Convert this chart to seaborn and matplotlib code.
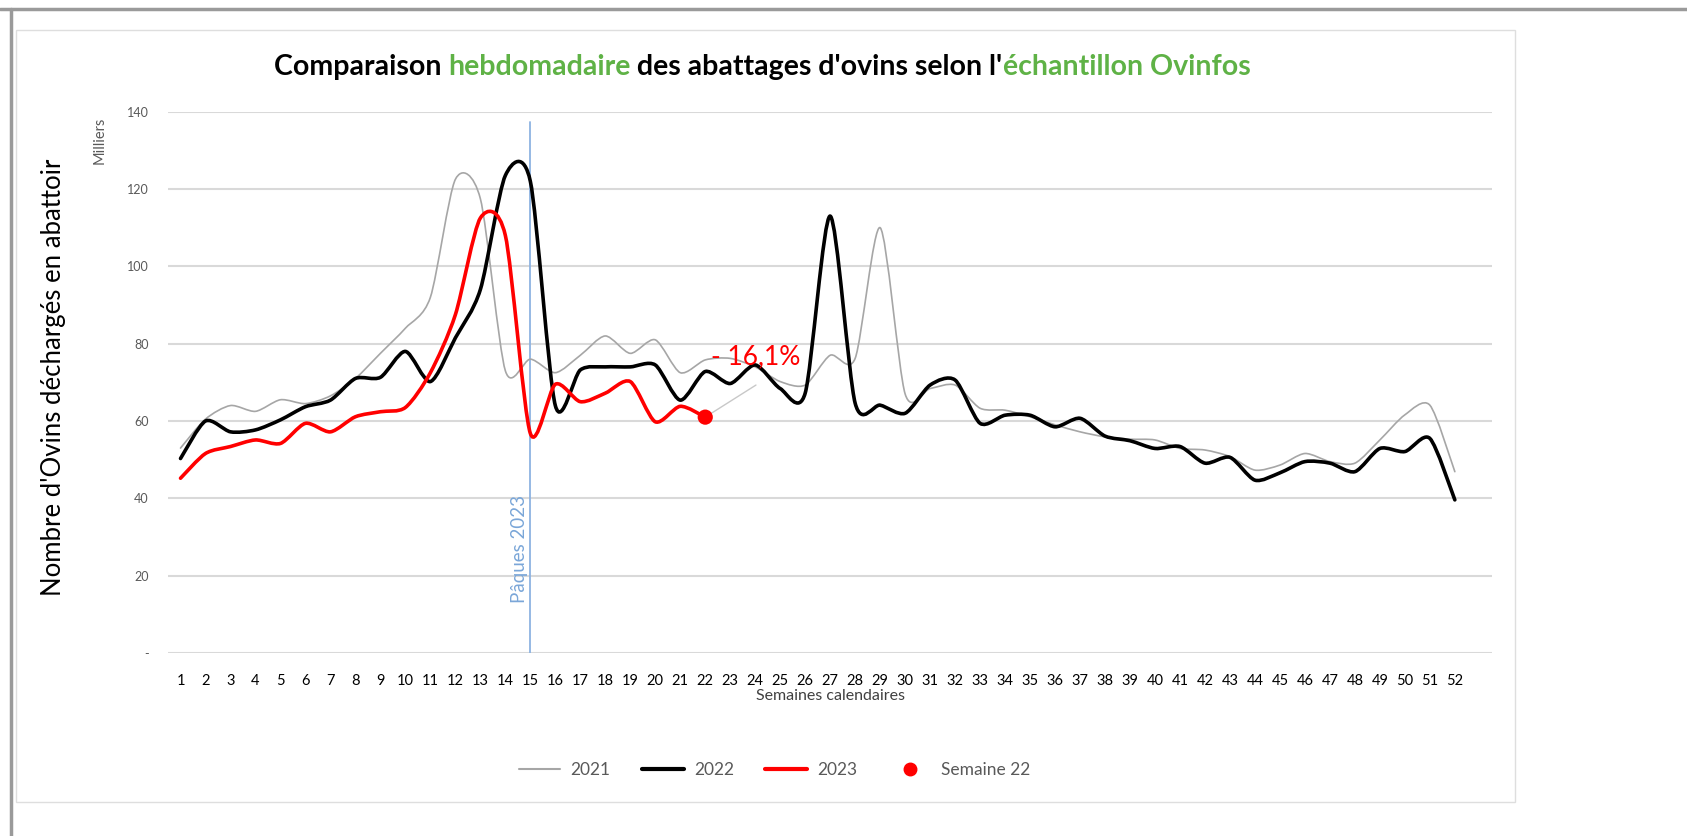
import numpy as np
import pandas as pd
import seaborn as sns
import matplotlib.pyplot as plt
from matplotlib.path import Path
from matplotlib.patches import PathPatch, Rectangle
from matplotlib.lines import Line2D

# weekly sheep slaughter (thousands)
weeks = list(range(1, 53))
y2021 = [53, 60.5, 64, 62.5, 65.5, 64.5, 66.5, 71, 77.5, 84, 92, 122.5, 117.5, 73, 76, 72.5,
         77, 82, 77.5, 81, 72.5, 75.8, 76.2, 74, 70.2, 69.3, 77, 76.2, 110, 67, 68.4, 69.3,
         63.3, 62.8, 61.1, 59, 57.2, 55.9, 55.3, 55.1, 52.9, 52.5, 50.8, 47.3, 48.6, 51.6,
         49.5, 49.1, 55.1, 61.6, 64.1, 46.9]
y2022 = [50.3, 60, 57.2, 57.7, 60.3, 63.7, 65.4, 71, 71.3, 78, 70.2, 81.5, 94, 123.5, 122, 64,
         73.2, 74, 74, 74.5, 65.4, 72.8, 69.7, 74.5, 68.4, 67.2, 113, 64.6, 64.1, 62, 69.3,
         70.6, 59.4, 61.5, 61.5, 58.5, 60.7, 56.1, 54.9, 52.9, 53.4, 49.1, 50.6, 44.7, 46.6,
         49.5, 49.1, 46.9, 52.9, 52.1, 55.5, 39.6]
y2023 = [45.2, 51.6, 53.4, 55.1, 54.2, 59.4, 57.2, 61.1, 62.4, 63.5, 72.5, 87.5, 112.5, 108,
         56.8, 69.5, 65, 67.2, 70.2, 59.8, 63.8, 61]
week_labels = [str(w) for w in weeks]
y_ticks = [0, 20, 40, 60, 80, 100, 120, 140]
y_tick_labels = ['-', '20', '40', '60', '80', '100', '120', '140']
focus_week = 22
change_text = '- 16,1%'
easter_week = 15

FONT = 'Lato'
GREEN = '#5fb246'
GREY_TXT = '#595959'
TENSION = 0.8


def smooth_path(xy):
    # Excel-like smoothed line: Catmull-Rom segments turned into cubic beziers
    p = np.vstack([xy[0], xy, xy[-1]])
    verts = [tuple(xy[0])]
    codes = [Path.MOVETO]
    k = TENSION / 6.0
    for i in range(1, len(p) - 2):
        c1 = p[i] + (p[i + 1] - p[i - 1]) * k
        c2 = p[i + 1] - (p[i + 2] - p[i]) * k
        verts += [tuple(c1), tuple(c2), tuple(p[i + 1])]
        codes += [Path.CURVE4] * 3
    return Path(verts, codes)


sns.set_theme(style='white')
plt.rcParams['font.family'] = [FONT, 'DejaVu Sans']

fig = plt.figure(figsize=(16.87, 8.36), dpi=100)

# screenshot frame
fig.add_artist(Line2D([0, 1], [0.9895, 0.9895], color='#9a9a9a', lw=2.5, transform=fig.transFigure))
fig.add_artist(Line2D([0.0068, 0.0068], [0, 0.9895], color='#9a9a9a', lw=2.5, transform=fig.transFigure))
fig.add_artist(Rectangle((16 / 1687, 1 - 802 / 836), (1515 - 16) / 1687, (802 - 30) / 836,
                         fill=False, ec='#dedede', lw=1, transform=fig.transFigure))

ax = fig.add_axes([0.0996, 0.2189, 0.785, 0.6475])

series = [
    (pd.DataFrame({'semaine': weeks, 'abattages': y2021}), '#a6a6a6', 1.2, '2021'),
    (pd.DataFrame({'semaine': weeks, 'abattages': y2022}), 'black', 2.6, '2022'),
    (pd.DataFrame({'semaine': weeks[:len(y2023)], 'abattages': y2023}), '#ff0000', 2.6, '2023'),
]
for df, color, lw, name in series:
    sns.lineplot(data=df, x='semaine', y='abattages', color=color, lw=lw, legend=False, ax=ax)

for line, (df, color, lw, name) in zip(list(ax.lines), series):
    patch = PathPatch(smooth_path(line.get_xydata()), fc='none', ec=color, lw=lw,
                      capstyle='round', joinstyle='round', transform=ax.transData, zorder=3)
    ax.add_patch(patch)
    line.set_visible(False)

sns.scatterplot(x=[focus_week], y=[y2023[focus_week - 1]], color='#ff0000', s=120,
                edgecolor='none', zorder=5, ax=ax)

# easter marker
ax.axvline(easter_week, ymin=0, ymax=137.3 / 140, color='#8db3e2', lw=1.3, zorder=2)
ax.annotate('Pâques 2023', xy=(easter_week, 26.8), xytext=(-7.8, 0), textcoords='offset points',
            rotation=90, ha='center', va='center', fontsize=13.5, color='#7aa6d8')

# change annotation
ax.annotate('', xy=(focus_week, y2023[focus_week - 1]), xytext=(24.03, 69.3),
            arrowprops=dict(arrowstyle='-', color='#c8c8c8', lw=1, shrinkA=0, shrinkB=0))
ax.text(24.0, 76.6, change_text, color='#ff0000', fontsize=19, ha='center', va='center', zorder=6)

ax.set_xlim(0.5, 53.5)
ax.set_ylim(0, 140)
ax.set_xticks(weeks)
ax.set_xticklabels(week_labels, fontsize=10.5, color='black')
ax.set_yticks(y_ticks)
ax.set_yticklabels(y_tick_labels, fontsize=9, color=GREY_TXT)
ax.tick_params(axis='x', length=0, pad=15)
ax.tick_params(axis='y', length=0, pad=14)
ax.yaxis.grid(True, color='#d9d9d9', lw=1.5)
ax.xaxis.grid(False)
for s in ax.spines.values():
    s.set_visible(False)

ax.set_xlabel('Semaines calendaires', fontsize=11.5, color='#404040')
ax.xaxis.set_label_coords(0.5, -0.067)
ax.set_ylabel("Nombre d'Ovins déchargés en abattoir", fontsize=18.5, color='black')
ax.yaxis.set_label_coords(-0.077, 0.51)
ax.text(-0.052, 0.948, 'Milliers', transform=ax.transAxes, rotation=90, ha='center', va='center',
        fontsize=10.5, color=GREY_TXT)

# title with coloured words
pieces = [('Comparaison ', 'black'), ('hebdomadaire', GREEN),
          (" des abattages d'ovins selon l'", 'black'), ('échantillon Ovinfos', GREEN)]
renderer = fig.canvas.get_renderer()
title_objs = []
for txt, col in pieces:
    t = fig.text(0, 1 - 67 / 836, txt, color=col, fontsize=20.5, fontweight='bold',
                 ha='left', va='center')
    title_objs.append(t)
widths = [t.get_window_extent(renderer).width for t in title_objs]
x_px = 762 - sum(widths) / 2
for t, w in zip(title_objs, widths):
    t.set_x(x_px / 1687)
    x_px += w

handles = [Line2D([], [], color='#a6a6a6', lw=1.5),
           Line2D([], [], color='black', lw=3),
           Line2D([], [], color='#ff0000', lw=3),
           Line2D([], [], color='#ff0000', marker='o', ls='none', ms=9)]
fig.legend(handles, ['2021', '2022', '2023', 'Semaine 22'], loc='center', ncol=4,
           bbox_to_anchor=(0.459, 1 - 770 / 836), frameon=False, fontsize=12.5,
           handlelength=2.4, columnspacing=1.8, handletextpad=0.6, labelcolor=GREY_TXT)

fig.savefig('out.png', dpi=100)
